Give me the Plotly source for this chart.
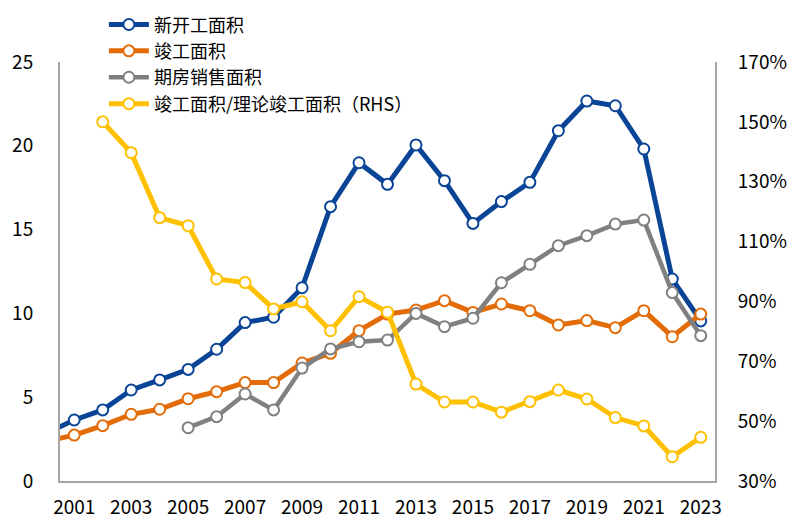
import plotly.graph_objects as go

years = list(range(2000, 2024))
new_start = [2.84, 3.64, 4.24, 5.43, 6.03, 6.66, 7.86, 9.45, 9.77, 11.53, 16.37, 18.99, 17.70,
             20.05, 17.92, 15.37, 16.67, 17.82, 20.90, 22.67, 22.39, 19.81, 12.05, 9.55]
completed = [2.36, 2.74, 3.30, 3.98, 4.28, 4.91, 5.33, 5.87, 5.87, 7.04, 7.62, 8.97, 9.96,
             10.20, 10.76, 10.06, 10.56, 10.16, 9.31, 9.57, 9.15, 10.16, 8.61, 9.96]
presale_years = list(range(2005, 2024))
presale = [3.18, 3.84, 5.19, 4.24, 6.74, 7.88, 8.31, 8.41, 10.00, 9.21, 9.71, 11.83,
           12.93, 14.04, 14.64, 15.33, 15.57, 11.24, 8.67]
ratio_years = list(range(2002, 2024))
ratio = [150.0, 139.7, 118.0, 115.3, 97.5, 96.3, 87.5, 89.9, 80.2, 91.6, 86.4, 62.4,
         56.4, 56.4, 53.0, 56.5, 60.4, 57.4, 51.2, 48.4, 38.1, 44.6]

names = ["新开工面积", "竣工面积", "期房销售面积", "竣工面积/理论竣工面积（RHS）"]
colors = ["#0a4496", "#e36c09", "#808080", "#ffc000"]

x_ticks = list(range(2001, 2024, 2))
y_ticks = [0, 5, 10, 15, 20, 25]
y2_ticks = [30, 50, 70, 90, 110, 130, 150, 170]

FONT = "Noto Sans CJK SC"

def marker(c):
    return dict(symbol="circle", size=11, color="white", line=dict(color=c, width=2))

fig = go.Figure()
fig.add_trace(go.Scatter(x=years, y=new_start, name=names[0], mode="lines+markers",
                         line=dict(color=colors[0], width=5), marker=marker(colors[0])))
fig.add_trace(go.Scatter(x=years, y=completed, name=names[1], mode="lines+markers",
                         line=dict(color=colors[1], width=5), marker=marker(colors[1])))
fig.add_trace(go.Scatter(x=presale_years, y=presale, name=names[2], mode="lines+markers",
                         line=dict(color=colors[2], width=4.5), marker=marker(colors[2])))
fig.add_trace(go.Scatter(x=ratio_years, y=ratio, name=names[3], mode="lines+markers",
                         line=dict(color=colors[3], width=5), marker=marker(colors[3]),
                         yaxis="y2"))

axis_color = "#a6a6a6"
fig.update_layout(
    width=797, height=532,
    margin=dict(l=52, r=90, t=54, b=59, autoexpand=False),
    paper_bgcolor="white", plot_bgcolor="white",
    font=dict(family=FONT, size=19, color="#000000"),
    showlegend=True,
    legend=dict(x=0.067, y=1.133, xanchor="left", yanchor="top", bgcolor="rgba(0,0,0,0)",
                font=dict(size=18), tracegroupgap=0, itemwidth=40),
    xaxis=dict(range=[2000.5, 2023.5], tickvals=x_ticks, ticktext=[str(v) for v in x_ticks],
               showgrid=False, zeroline=False, showline=True, linecolor=axis_color,
               linewidth=2, ticks="", tickfont=dict(size=19), ticklabelstandoff=8),
    yaxis=dict(range=[0, 25], tickvals=y_ticks, ticktext=[str(v) for v in y_ticks],
               showgrid=False, zeroline=False,
               showline=True, linecolor=axis_color, linewidth=2, ticks="",
               tickfont=dict(size=19), ticklabelstandoff=21),
    yaxis2=dict(range=[30, 170], tickvals=y2_ticks, ticktext=[f"{v}%" for v in y2_ticks],
                overlaying="y", side="right", showgrid=False, zeroline=False, showline=True,
                linecolor=axis_color, linewidth=2, ticks="", tickfont=dict(size=19),
                ticklabelstandoff=17),
)

fig.write_html("out.html")
